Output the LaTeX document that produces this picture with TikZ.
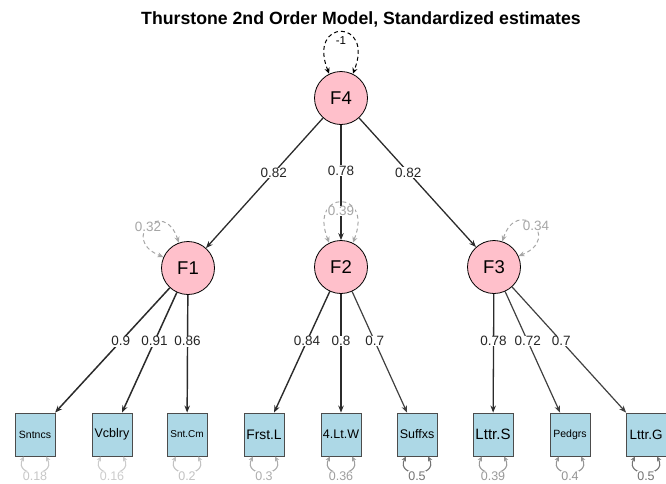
\documentclass[tikz,border=0pt]{standalone}
\usepackage{fontspec}
\setmainfont{Liberation Sans}
\usetikzlibrary{arrows.meta}
\definecolor{latfill}{HTML}{FFC0CB}
\definecolor{manfill}{HTML}{ADD8E6}
\definecolor{edgecol}{HTML}{2B2B2B}
\newcommand{\fs}[1]{\fontsize{#1}{#1}\selectfont}
\begin{document}
\begin{tikzpicture}[x=1pt,y=-1pt,
  latent/.style={circle,draw=black,fill=latfill,line width=0.8pt,
    minimum size=53pt,inner sep=0pt,font=\fs{18.5}},
  manifest/.style={rectangle,draw=black!70,fill=manfill,line width=0.9pt,
    minimum width=40pt,minimum height=43pt,inner sep=0pt},
  load/.style={draw=edgecol,line width=#1,
    -{Stealth[length=7pt,width=5.5pt]}},
  lbl/.style={fill=white,inner sep=0.5pt,text=black!85,font=\fs{13.5}},
  varlbl/.style={fill=white,inner sep=0.5pt,text=#1,font=\fs{13.5}},
  facvar/.style={draw=#1,dashed,dash pattern=on 4pt off 3pt,line width=1pt,
    {Stealth[length=6pt,width=5pt]}-{Stealth[length=6pt,width=5pt]}},
  resid/.style={draw=#1,line width=1.1pt,
    {Stealth[length=5pt,width=4.5pt]}-{Stealth[length=5pt,width=4.5pt]}}
]
\useasboundingbox (0,0) rectangle (666,483);

% title
\node[font=\bfseries\fs{17.7}] (title) at (361,19) {Thurstone 2nd Order Model, Standardized estimates};

% latent factors
\node[latent] (F4) at (341,98) {F4};
\node[latent] (F1) at (188,268) {F1};
\node[latent] (F2) at (341,267) {F2};
\node[latent] (F3) at (494,267) {F3};

% observed indicators
\node[manifest,font=\fs{10.5}] (Sntncs) at (35,434.5) {Sntncs};
\node[manifest,font=\fs{12.5}] (Vcblry) at (112,434.5) {Vcblry};
\node[manifest,font=\fs{10}]   (SntCm)  at (187,434.5) {Snt.Cm};
\node[manifest,font=\fs{13.8}] (FrstL)  at (264,434.5) {Frst.L};
\node[manifest,font=\fs{12.5}] (LtW)    at (341,434.5) {4.Lt.W};
\node[manifest,font=\fs{12.5}] (Suffxs) at (417,434.5) {Suffxs};
\node[manifest,font=\fs{15}]   (LttrS)  at (493,434.5) {Lttr.S};
\node[manifest,font=\fs{10.5}] (Pedgrs) at (570,434.5) {Pedgrs};
\node[manifest,font=\fs{13.5}] (LttrG)  at (646,434.5) {Lttr.G};

% factor variances (y axis points down, so upward directions use negative angles)
\draw[facvar=black] (F4.116) .. controls +(-112:60) and +(-68:60) .. (F4.64);
\node[varlbl=black,font=\fs{11.5}] (v4) at (341,41) {-1};
\draw[facvar=black!35] (F1.110) .. controls +(-108:48) and +(-158:48) .. (F1.156);
\draw[facvar=black!35] (F2.116) .. controls +(-112:58) and +(-68:58) .. (F2.64);
\draw[facvar=black!35] (F3.72) .. controls +(-72:48) and +(-22:48) .. (F3.24);

% second-order loadings
\draw[load=1.3pt] (F4) -- (F1);
\draw[load=1.25pt] (F4) -- (F2);
\draw[load=1.3pt] (F4) -- (F3);
\path (F4.center) -- (F1.center) node[lbl,pos=0.44] (l41) {0.82};
\path (F4.center) -- (F2.center) node[lbl,pos=0.43] (l42) {0.78};
\path (F4.center) -- (F3.center) node[lbl,pos=0.44] (l43) {0.82};

% variance labels on top of the connectors
\node[varlbl=black!35] (v1) at (148,227) {0.32};
\node[varlbl=black!35] (v2) at (341,211) {0.39};
\node[varlbl=black!35] (v3) at (536,226) {0.34};

% first-order loadings
\draw[load=1.5pt]  (F1) -- (Sntncs);
\draw[load=1.5pt]  (F1) -- (Vcblry);
\draw[load=1.45pt] (F1) -- (SntCm);
\draw[load=1.4pt]  (F2) -- (FrstL);
\draw[load=1.35pt] (F2) -- (LtW);
\draw[load=1.2pt,draw=black!75] (F2) -- (Suffxs);
\draw[load=1.3pt]  (F3) -- (LttrS);
\draw[load=1.2pt,draw=black!75] (F3) -- (Pedgrs);
\draw[load=1.2pt,draw=black!75] (F3) -- (LttrG);
\path (F1.center) -- (Sntncs.center) node[lbl,pos=0.44] (a1) {0.9};
\path (F1.center) -- (Vcblry.center) node[lbl,pos=0.44] (a2) {0.91};
\path (F1.center) -- (SntCm.center)  node[lbl,pos=0.44] (a3) {0.86};
\path (F2.center) -- (FrstL.center)  node[lbl,pos=0.443] (a4) {0.84};
\path (F2.center) -- (LtW.center)    node[lbl,pos=0.443] (a5) {0.8};
\path (F2.center) -- (Suffxs.center) node[lbl,pos=0.443] (a6) {0.7};
\path (F3.center) -- (LttrS.center)  node[lbl,pos=0.443] (a7) {0.78};
\path (F3.center) -- (Pedgrs.center) node[lbl,pos=0.443] (a8) {0.72};
\path (F3.center) -- (LttrG.center)  node[lbl,pos=0.443] (a9) {0.7};

% residual variances
\foreach \n/\v/\c in {Sntncs/0.18/22,Vcblry/0.16/20,SntCm/0.2/24,FrstL/0.3/32,
    LtW/0.36/38,Suffxs/0.5/55,LttrS/0.39/40,Pedgrs/0.4/42,LttrG/0.5/55}{
  \draw[resid=black!\c] ([xshift=-11pt]\n.south) .. controls +(-11,21) and +(11,21) .. ([xshift=11pt]\n.south);
  \node[varlbl=black!\c,font=\fs{12.5}] (r\n) at ([yshift=-19.5pt]\n.south) {\v};
}
\end{tikzpicture}
\end{document}
